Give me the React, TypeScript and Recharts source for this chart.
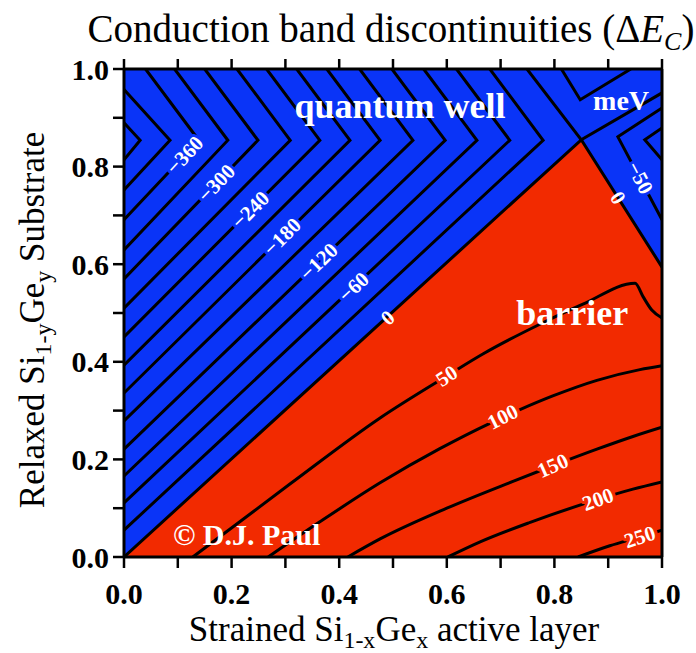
import React from 'react';
import { ComposedChart, Area, Scatter, XAxis, YAxis } from 'recharts';

const BLUE = '#0a34f7';
const RED = '#f22a00';
const SERIF = '"Liberation Serif", "Times New Roman", serif';

// ΔEc = 0 boundary of the barrier region (below it ΔEc > 0)
const boundaryX = [0, 0.85, 1];
const boundaryY = [0, 0.855, 0.594];

// quantum well contours, every 30 meV from −30 to −420
const wellContours: number[][][] = [
  [[0, 0.055], [0.779, 0.854], [0.68, 1]],
  [[0, 0.111], [0.717, 0.854], [0.618, 1]],
  [[0, 0.166], [0.656, 0.854], [0.557, 1]],
  [[0, 0.221], [0.597, 0.854], [0.498, 1]],
  [[0, 0.279], [0.537, 0.854], [0.438, 1]],
  [[0, 0.336], [0.476, 0.854], [0.377, 1]],
  [[0, 0.393], [0.42, 0.854], [0.321, 1]],
  [[0, 0.451], [0.364, 0.854], [0.265, 1]],
  [[0, 0.51], [0.309, 0.854], [0.21, 1]],
  [[0, 0.57], [0.249, 0.854], [0.15, 1]],
  [[0, 0.629], [0.193, 0.854], [0.094, 1]],
  [[0, 0.691], [0.139, 0.854], [0.04, 1]],
  [[0, 0.752], [0.0855, 0.854], [0, 0.958]],
  [[0, 0.814], [0.03, 0.854], [0, 0.89]],
];

// zero lines and the L-valley wells on the Ge-rich side
const zeroLeft = [[0, 0], [0.85, 0.855], [0.749, 1]];
const zeroRight = [[1, 0.951], [0.85, 0.855], [1, 0.594]];
const topWell = [[0.813, 1], [0.848, 0.937], [0.942, 1]];
const rightWell1 = [[1, 0.92], [0.918, 0.861], [1, 0.691]];
const rightWell2 = [[1, 0.879], [0.968, 0.855], [1, 0.814]];

// barrier contours 50 … 250 meV
const barrier50 = [[0.128, 0], [0.309, 0.15], [0.476, 0.285], [0.6, 0.371], [0.667, 0.416], [0.773, 0.477], [0.853, 0.518], [0.95, 0.561], [0.965, 0.533], [0.981, 0.506], [1, 0.49]];
const barrier100 = [[0.268, 0], [0.364, 0.072], [0.476, 0.152], [0.587, 0.222], [0.68, 0.274], [0.736, 0.302], [0.797, 0.33], [0.879, 0.362], [0.959, 0.384], [1, 0.392]];
const barrier150 = [[0.416, 0], [0.476, 0.037], [0.6, 0.1], [0.723, 0.155], [0.797, 0.187], [0.879, 0.221], [0.946, 0.247], [1, 0.266]];
const barrier200 = [[0.602, 0], [0.662, 0.031], [0.755, 0.071], [0.881, 0.118], [0.946, 0.139], [1, 0.154]];
const barrier250 = [[0.844, 0], [0.903, 0.023], [0.959, 0.041], [1, 0.055]];

const wellLabels = [
  { x: 0.113, y: 0.8235, text: '−360', angle: -47 },
  { x: 0.172, y: 0.766, text: '−300', angle: -46 },
  { x: 0.235, y: 0.711, text: '−240', angle: -45 },
  { x: 0.294, y: 0.656, text: '−180', angle: -45 },
  { x: 0.362, y: 0.605, text: '−120', angle: -44 },
  { x: 0.427, y: 0.553, text: '−60', angle: -43 },
  { x: 0.959, y: 0.777, text: '−50', angle: 62 },
];
const zeroLabels = [
  { x: 0.49, y: 0.49, text: '0', angle: -42 },
  { x: 0.918, y: 0.736, text: '0', angle: 57 },
];
const barrierLabels = [
  { x: 0.6, y: 0.371, text: '50', angle: -33 },
  { x: 0.704, y: 0.287, text: '100', angle: -27 },
  { x: 0.797, y: 0.187, text: '150', angle: -24 },
  { x: 0.881, y: 0.118, text: '200', angle: -20 },
  { x: 0.959, y: 0.041, text: '250', angle: -18 },
];

const regionNames = [
  { x: 0.513, y: 0.9, text: 'quantum well' },
  { x: 0.833, y: 0.475, text: 'barrier' },
];
const unitNote = [{ x: 0.924, y: 0.916, text: 'meV' }];
const credit = [{ x: 0.091, y: 0.0246, text: '© D.J. Paul' }];

const ticks = [0, 0.1, 0.2, 0.3, 0.4, 0.5, 0.6, 0.7, 0.8, 0.9, 1];
const tickLabels = ['0.0', '', '0.2', '', '0.4', '', '0.6', '', '0.8', '', '1.0'];

const fills = boundaryX.map((x, i) => ({ x, top: 1, barrier: boundaryY[i] }));
const toPoints = (pts: number[][]) => pts.map(([x, y]) => ({ x, y }));

const contours = [
  ...wellContours.map((c) => ({ pts: c, curve: 'linear' })),
  { pts: zeroLeft, curve: 'linear' },
  { pts: zeroRight, curve: 'linear' },
  { pts: topWell, curve: 'linear' },
  { pts: rightWell1, curve: 'linear' },
  { pts: rightWell2, curve: 'linear' },
  { pts: barrier50, curve: 'monotoneX' },
  { pts: barrier100, curve: 'monotoneX' },
  { pts: barrier150, curve: 'monotoneX' },
  { pts: barrier200, curve: 'monotoneX' },
  { pts: barrier250, curve: 'monotoneX' },
];

const noDot = () => <g />;

const textShape = (size: number, anchor: string, halo?: string) => (p: any) => {
  const { cx, cy, payload } = p;
  return (
    <text
      x={cx}
      y={cy}
      transform={payload.angle ? `rotate(${payload.angle} ${cx} ${cy})` : undefined}
      textAnchor={anchor}
      dominantBaseline={payload.angle !== undefined ? 'central' : 'auto'}
      fontFamily={SERIF}
      fontWeight={700}
      fontSize={size}
      fill="#fff"
      stroke={halo || 'none'}
      strokeWidth={halo ? 6 : 0}
      strokeLinejoin="round"
      paintOrder="stroke"
    >
      {payload.text}
    </text>
  );
};

const axisLine = { stroke: '#000', strokeWidth: 3 };
const tickLine = { stroke: '#000', strokeWidth: 2.5 };
const tickFont = { fill: '#000', fontFamily: SERIF, fontWeight: 700, fontSize: 30 };

export default function App() {
  return (
    <div style={{ position: 'relative', width: 696, height: 653, background: '#fff' }}>
      <style>{'body{margin:0}'}</style>
      <ComposedChart width={696} height={653} data={fills} margin={{ top: 57, right: 22, bottom: 36, left: 24 }}>
        <XAxis
          dataKey="x"
          type="number"
          domain={[0, 1]}
          ticks={ticks}
          tickFormatter={(_v: number, i: number) => tickLabels[i]}
          height={60}
          tickSize={11}
          tickMargin={15}
          axisLine={axisLine}
          tickLine={tickLine}
          tick={tickFont}
          allowDataOverflow
        />
        <XAxis
          xAxisId="top"
          orientation="top"
          dataKey="x"
          type="number"
          domain={[0, 1]}
          ticks={ticks}
          tickFormatter={() => ''}
          height={12}
          tickSize={10}
          axisLine={axisLine}
          tickLine={tickLine}
        />
        <YAxis
          dataKey="y"
          type="number"
          domain={[0, 1]}
          ticks={ticks}
          tickFormatter={(_v: number, i: number) => tickLabels[i]}
          width={100}
          tickSize={11}
          tickMargin={4}
          axisLine={axisLine}
          tickLine={tickLine}
          tick={tickFont}
          allowDataOverflow
        />
        <YAxis
          yAxisId="right"
          orientation="right"
          dataKey="y"
          type="number"
          domain={[0, 1]}
          ticks={ticks}
          tickFormatter={() => ''}
          width={12}
          tickSize={10}
          axisLine={axisLine}
          tickLine={tickLine}
        />
        <Area dataKey="top" type="linear" stroke="none" fill={BLUE} fillOpacity={1} isAnimationActive={false} />
        <Area dataKey="barrier" type="linear" stroke="none" fill={RED} fillOpacity={1} isAnimationActive={false} />
        {contours.map((c, i) => (
          <Scatter
            key={`c${i}`}
            data={toPoints(c.pts)}
            shape={noDot}
            line={{ stroke: '#000', strokeWidth: 3 }}
            lineJointType={c.curve as any}
            isAnimationActive={false}
          />
        ))}
        <Scatter data={wellLabels} shape={textShape(21, 'middle', BLUE)} isAnimationActive={false} />
        <Scatter data={zeroLabels} shape={textShape(21, 'middle')} isAnimationActive={false} />
        <Scatter data={barrierLabels} shape={textShape(21, 'middle', RED)} isAnimationActive={false} />
        <Scatter data={regionNames} shape={textShape(36, 'middle')} isAnimationActive={false} />
        <Scatter data={unitNote} shape={textShape(28, 'middle')} isAnimationActive={false} />
        <Scatter data={credit} shape={textShape(30, 'start')} isAnimationActive={false} />
      </ComposedChart>
      <svg width={696} height={653} style={{ position: 'absolute', left: 0, top: 0, pointerEvents: 'none' }}>
        <g fontFamily={SERIF} fill="#000">
          <text x={391} y={42} textAnchor="middle" fontSize={39}>
            Conduction band discontinuities (Δ<tspan fontStyle="italic">E</tspan>
            <tspan fontStyle="italic" fontSize={26} dy={8}>C</tspan>
            <tspan dy={-8}>)</tspan>
          </text>
          <text x={394} y={641} textAnchor="middle" fontSize={35}>
            Strained Si<tspan fontSize={24} dy={7}>1-x</tspan>
            <tspan dy={-7}>Ge</tspan>
            <tspan fontSize={24} dy={7}>x</tspan>
            <tspan dy={-7}> active layer</tspan>
          </text>
          <text transform="translate(44 320) rotate(-90)" textAnchor="middle" fontSize={35}>
            Relaxed Si<tspan fontSize={24} dy={7}>1-y</tspan>
            <tspan dy={-7}>Ge</tspan>
            <tspan fontSize={24} dy={7}>y</tspan>
            <tspan dy={-7}> Substrate</tspan>
          </text>
        </g>
      </svg>
    </div>
  );
}
